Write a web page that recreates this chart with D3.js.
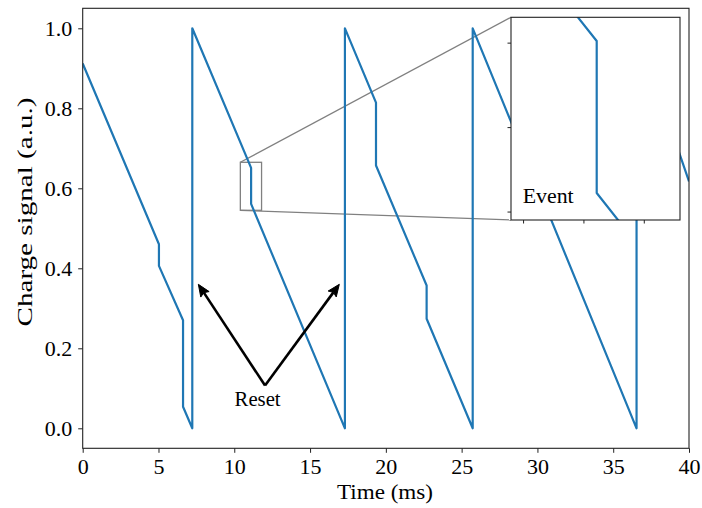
<!DOCTYPE html>
<html><head><meta charset="utf-8">
<script src="https://cdn.jsdelivr.net/npm/d3@7/dist/d3.min.js"></script>
<style>
body{margin:0;background:#fff}
svg{display:block}
text{font-family:"Liberation Serif","Times New Roman",serif;fill:#000}
</style>
</head><body>
<svg id="chart" width="702" height="508"></svg>
<script>
// ---- data ----
const time   = [0, 5.03, 5.03, 6.62, 6.62, 7.23, 7.23, 11.11, 11.11, 17.3, 17.3, 19.35, 19.35, 22.69, 22.69, 25.73, 25.73, 36.54, 36.54, 40];
const signal = [0.912, 0.46, 0.406, 0.27, 0.054, 0.0, 1.0, 0.651, 0.561, 0.0, 1.0, 0.814, 0.657, 0.357, 0.274, 0.0, 1.0, 0.0, 1.0, 0.617];
const xTicks = [0, 5, 10, 15, 20, 25, 30, 35, 40];
const yTicks = [0.0, 0.2, 0.4, 0.6, 0.8, 1.0];
const yTickLabels = ["0.0", "0.2", "0.4", "0.6", "0.8", "1.0"];
const xDomain = [0, 40];
const yDomain = [-0.05, 1.05];
const insetXDomain = [10.4, 11.8];
const insetYDomain = [0.545, 0.665];
const insetXTicks = [10.5, 11.0, 11.5];
const insetYTicks = [0.55, 0.60, 0.65];
const resetText = "Reset";
const resetTextPos = [11.54, 0.057];
const resetTail = [12.03, 0.107];
const resetTargets = [[7.63, 0.36], [16.93, 0.36]];
const eventText = "Event";
const xLabel = "Time (ms)";
const yLabel = "Charge signal (a.u.)";

// ---- layout ----
const svg = d3.select("#chart");
const L = 82.7, R = 689, T = 8.3, B = 448.3;
const x = d3.scaleLinear().domain(xDomain).range([L, R]);
const y = d3.scaleLinear().domain(yDomain).range([B, T]);
const blue = "#1f77b4";
const pts = time.map((t, i) => [t, signal[i]]);

const defs = svg.append("defs");
defs.append("clipPath").attr("id", "mainClip").append("rect")
  .attr("x", L).attr("y", T).attr("width", R - L).attr("height", B - T);

// inset mark rectangle + connectors (below line)
const iL = 511, iR = 680, iT = 17.3, iB = 220;
const rx0 = x(insetXDomain[0]), rx1 = x(insetXDomain[1]);
const ry0 = y(insetYDomain[1]), ry1 = y(insetYDomain[0]);
svg.append("rect").attr("x", rx0).attr("y", ry0).attr("width", rx1 - rx0).attr("height", ry1 - ry0)
  .attr("fill", "none").attr("stroke", "#808080").attr("stroke-width", 1.3);
svg.append("line").attr("x1", rx0).attr("y1", ry0).attr("x2", iL).attr("y2", iT)
  .attr("stroke", "#808080").attr("stroke-width", 1.3);
svg.append("line").attr("x1", rx0).attr("y1", ry1).attr("x2", iL).attr("y2", iB)
  .attr("stroke", "#808080").attr("stroke-width", 1.3);

// main line
const line = d3.line().x(d => x(d[0])).y(d => y(d[1]));
svg.append("path").datum(pts).attr("clip-path", "url(#mainClip)")
  .attr("d", line).attr("fill", "none").attr("stroke", blue).attr("stroke-width", 2.2)
  .attr("stroke-linejoin", "round");

// axes
const FS = 22;
const xAxis = d3.axisBottom(x).tickValues(xTicks).tickFormat(d3.format("d")).tickSize(4.5).tickSizeOuter(0).tickPadding(5.5);
const gx = svg.append("g").attr("transform", `translate(0,${B})`).call(xAxis);
const yAxis = d3.axisLeft(y).tickValues(yTicks).tickFormat((d, i) => yTickLabels[i]).tickSize(4.5).tickSizeOuter(0).tickPadding(6);
const gy = svg.append("g").attr("transform", `translate(${L},0)`).call(yAxis);
[gx, gy].forEach(g => {
  g.selectAll("text").style("font-family", '"Liberation Serif",serif').style("font-size", FS + "px").attr("fill", "#000");
  g.selectAll("line").attr("stroke", "#222").attr("stroke-width", 1);
  g.select(".domain").remove();
});
// spines
svg.append("rect").attr("x", L).attr("y", T).attr("width", R - L).attr("height", B - T)
  .attr("fill", "none").attr("stroke", "#222").attr("stroke-width", 1.1);

// axis labels
svg.append("text").attr("x", 385).attr("y", 498.5).attr("text-anchor", "middle")
  .attr("textLength", 96).attr("lengthAdjust", "spacingAndGlyphs")
  .style("font-size", FS + "px").text(xLabel);
svg.append("text").attr("transform", `translate(32,${212}) rotate(-90)`).attr("text-anchor", "middle")
  .attr("textLength", 229).attr("lengthAdjust", "spacingAndGlyphs")
  .style("font-size", FS + "px").text(yLabel);

// annotation arrows
const tail = [x(resetTail[0]), y(resetTail[1])];
resetTargets.forEach(tg => {
  const tip = [x(tg[0]), y(tg[1])];
  const dx = tip[0] - tail[0], dy = tip[1] - tail[1];
  const len = Math.hypot(dx, dy), ux = dx / len, uy = dy / len;
  const hl = 12, hw = 5;
  const base = [tip[0] - ux * hl, tip[1] - uy * hl];
  svg.append("line").attr("x1", tail[0]).attr("y1", tail[1])
    .attr("x2", base[0] + ux * 2).attr("y2", base[1] + uy * 2)
    .attr("stroke", "#000").attr("stroke-width", 2.6);
  svg.append("path").attr("d", `M${tip[0]},${tip[1]}L${base[0] - uy * hw},${base[1] + ux * hw}L${base[0] + ux*2},${base[1] + uy*2}L${base[0] + uy * hw},${base[1] - ux * hw}Z`)
    .attr("fill", "#000").attr("stroke", "#000").attr("stroke-width", 1).attr("stroke-linejoin", "miter");
});
svg.append("text").attr("x", x(resetTextPos[0])).attr("y", y(resetTextPos[1])).attr("text-anchor", "middle")
  .attr("textLength", 46).attr("lengthAdjust", "spacingAndGlyphs")
  .style("font-size", "20px").text(resetText);

// inset axes
const xi = d3.scaleLinear().domain(insetXDomain).range([iL, iR]);
const yi = d3.scaleLinear().domain(insetYDomain).range([iB, iT]);
defs.append("clipPath").attr("id", "insetClip").append("rect")
  .attr("x", iL).attr("y", iT).attr("width", iR - iL).attr("height", iB - iT);
svg.append("rect").attr("x", iL).attr("y", iT).attr("width", iR - iL).attr("height", iB - iT).attr("fill", "#fff");
const lineI = d3.line().x(d => xi(d[0])).y(d => yi(d[1]));
svg.append("path").datum(pts).attr("clip-path", "url(#insetClip)")
  .attr("d", lineI).attr("fill", "none").attr("stroke", blue).attr("stroke-width", 2.2)
  .attr("stroke-linejoin", "round");
const gxi = svg.append("g").attr("transform", `translate(0,${iB})`)
  .call(d3.axisBottom(xi).tickValues(insetXTicks).tickFormat("").tickSize(3.5).tickSizeOuter(0));
const gyi = svg.append("g").attr("transform", `translate(${iL},0)`)
  .call(d3.axisLeft(yi).tickValues(insetYTicks).tickFormat("").tickSize(3.5).tickSizeOuter(0));
[gxi, gyi].forEach(g => {
  g.selectAll("line").attr("stroke", "#222").attr("stroke-width", 1);
  g.select(".domain").remove();
});
svg.append("rect").attr("x", iL).attr("y", iT).attr("width", iR - iL).attr("height", iB - iT)
  .attr("fill", "none").attr("stroke", "#222").attr("stroke-width", 1.1);
svg.append("text").attr("x", 522.7).attr("y", 203.3)
  .attr("textLength", 51).attr("lengthAdjust", "spacingAndGlyphs")
  .style("font-size", FS + "px").text(eventText);
</script>
</body></html>
